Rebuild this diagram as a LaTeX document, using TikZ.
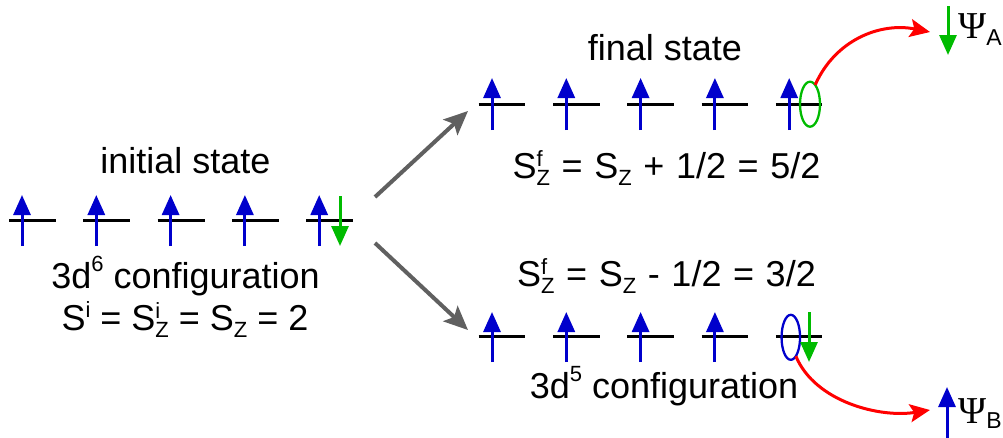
\documentclass[tikz,border=0pt]{standalone}
\usepackage{fontspec}
\setmainfont{Liberation Sans}
\newfontfamily\psifont{Liberation Serif}
\usetikzlibrary{arrows.meta,shapes.geometric}
\definecolor{spinblue}{HTML}{0000CC}
\definecolor{spingreen}{HTML}{00BB00}
\definecolor{trred}{HTML}{FF0000}
\definecolor{trgray}{HTML}{606060}
\newcommand\smallf[1]{{\fontsize{22}{22}\selectfont #1}}
\newcommand\supx[2]{\raisebox{#1}{\smallf{#2}}}
\newcommand\supsubx[2]{\rlap{\raisebox{12pt}{\smallf{#1}}}\raisebox{-7pt}{\smallf{#2}}}
\tikzset{
  orbital/.style={line width=2.5pt, black},
  upspin/.style={line width=3pt, spinblue, -{Triangle[length=20pt,width=17pt]}},
  downspin/.style={line width=3pt, spingreen, -{Triangle[length=20pt,width=17pt]}},
  transition/.style={line width=4pt, trgray, -{Stealth[length=24pt,width=21pt,inset=5pt]}},
  emission/.style={line width=3pt, trred, -{Stealth[length=20pt,width=18pt,inset=4pt]}},
  txt/.style={inner sep=0pt, anchor=base, font=\fontsize{36}{40}\selectfont},
  hole/.style={ellipse, inner sep=0pt, outer sep=0pt, line width=2.3pt, minimum width=20pt, minimum height=45pt}
}
\begin{document}
\begin{tikzpicture}[x=1pt,y=-1pt]
\useasboundingbox (0,0) rectangle (1003,437);
% initial state row
\foreach \i in {0,...,4}{
  \pgfmathsetmacro\xl{9+74.3*\i}
  \draw[orbital] (\xl,220.7) -- ++(47,0);
  \draw[upspin] (\xl+13,246) -- (\xl+13,195);
}
\draw[downspin] (340,196) -- (340,246);
% final state row (top)
\foreach \i in {0,...,4}{
  \pgfmathsetmacro\xl{478.7+74.3*\i}
  \draw[orbital] (\xl,104.3) -- ++(46.5,0);
  \draw[upspin] (\xl+13.3,130) -- (\xl+13.3,78);
}
\node[hole, draw=spingreen] (holeA) at (810,104.2) {};
% final state row (bottom)
\foreach \i in {0,...,4}{
  \pgfmathsetmacro\xl{478.7+74.3*\i}
  \draw[orbital] (\xl,336.7) -- ++(46.5,0);
}
\foreach \i in {0,...,3}{
  \pgfmathsetmacro\xl{478.7+74.3*\i}
  \draw[upspin] (\xl+13.3,362) -- (\xl+13.3,312);
}
\node[hole, draw=spinblue, minimum width=18.5pt] (holeB) at (790.8,337.3) {};
\draw[downspin] (809,312) -- (809,362);
% texts
\node[txt] (init) at (185.5,173) {initial state};
\node[txt] (conf6) at (185.5,288) {3d\supx{17pt}{6} configuration};
\node[txt] (si) at (185,330) {S\supx{13pt}{i} = S\supsubx{i}{Z} = S\supx{-7pt}{Z} = 2};
\node[txt] (fin) at (665,60) {final state};
\node[txt] (sfa) at (666.5,178) {\spaceskip=11.6pt S\supsubx{f}{Z} = S\supx{-7pt}{Z} + 1/2 = 5/2};
\node[txt] (sfb) at (666.5,286) {\spaceskip=11.6pt S\supsubx{f}{Z} = S\supx{-7pt}{Z} - 1/2 = 3/2};
\node[txt] (conf5) at (664,398) {3d\supx{17pt}{5} configuration};
% transitions
\coordinate (t1s) at (375,197);
\coordinate (t1e) at (468,111);
\coordinate (t2s) at (375,243);
\coordinate (t2e) at (468,330);
\draw[transition] (t1s) -- (t1e);
\draw[transition] (t2s) -- (t2e);
% emitted electrons
\coordinate (eA) at (930,32);
\coordinate (eB) at (930,410);
\draw[emission] (holeA.75) .. controls (835,40) and (880,22) .. (eA);
\draw[emission] (holeB.-75) .. controls (815,402) and (880,418) .. (eB);
\draw[downspin] (948,6) -- (948,55);
\draw[upspin] (947,440) -- (947,387);
\node[inner sep=0pt, anchor=base west] (psiA) at (958,38) {{\psifont\fontsize{38}{40}\selectfont Ψ}\raisebox{-7pt}{\fontsize{23}{23}\selectfont A}};
\node[inner sep=0pt, anchor=base west] (psiB) at (958,423) {{\psifont\fontsize{38}{40}\selectfont Ψ}\raisebox{-5pt}{\fontsize{23}{23}\selectfont B}};
\end{tikzpicture}
\end{document}
